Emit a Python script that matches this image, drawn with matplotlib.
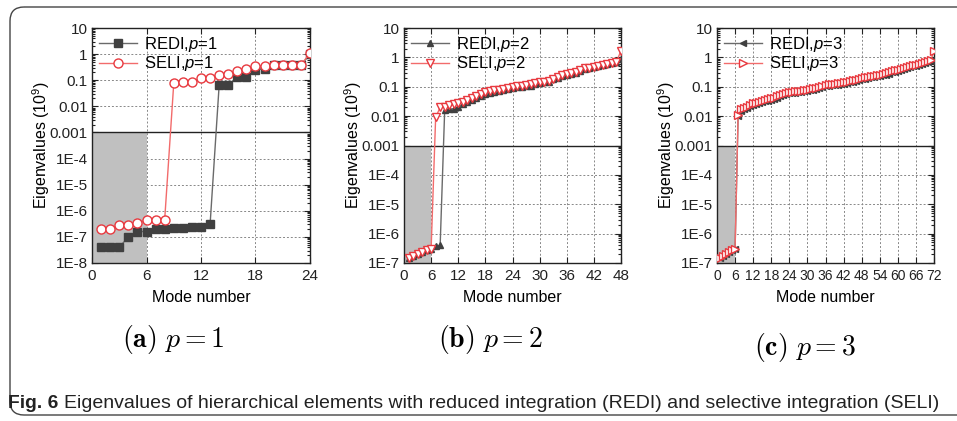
import matplotlib
matplotlib.use("Agg")
import matplotlib.pyplot as plt
from matplotlib.patches import FancyBboxPatch
from matplotlib.ticker import FixedLocator, LogLocator, NullFormatter

plt.rcParams['font.family'] = ['Liberation Sans', 'DejaVu Sans']
plt.rcParams['mathtext.fontset'] = 'custom'
plt.rcParams['mathtext.rm'] = 'Liberation Sans'
plt.rcParams['mathtext.it'] = 'Liberation Sans:italic'

# ---------------- data ----------------
modes_p1 = list(range(1, 25))
redi_p1 = [4e-8, 4e-8, 4e-8, 1e-7, 1.6e-7, 1.6e-7, 2e-7, 2e-7, 2.2e-7, 2.2e-7, 2.4e-7, 2.4e-7,
           3e-7, 0.065, 0.065, 0.13, 0.13, 0.25, 0.28, 0.37, 0.37, 0.37, 0.37, 1.0]
seli_p1 = [2e-7, 2e-7, 2.9e-7, 2.9e-7, 3.5e-7, 4.3e-7, 4.5e-7, 4.5e-7, 0.075, 0.082, 0.085, 0.12,
           0.125, 0.165, 0.17, 0.23, 0.27, 0.36, 0.36, 0.38, 0.38, 0.38, 0.38, 1.1]

modes_p2 = list(range(1, 49))
redi_p2 = [1.5e-7, 1.8e-7, 2.1e-7, 2.4e-7, 2.8e-7, 3.1e-7, 3.8e-7, 4.0e-7, 0.016, 0.017,
           0.018, 0.021, 0.025, 0.03, 0.036, 0.042, 0.049, 0.057, 0.063, 0.068,
           0.073, 0.078, 0.083, 0.09, 0.095, 0.1, 0.105, 0.11, 0.12, 0.13,
           0.14, 0.15, 0.18, 0.2, 0.23, 0.26, 0.28, 0.3, 0.34, 0.4,
           0.43, 0.46, 0.5, 0.54, 0.58, 0.62, 0.68, 0.85]
seli_p2 = [1.5e-7, 1.7e-7, 2.0e-7, 2.3e-7, 2.7e-7, 3.0e-7, 0.009, 0.02, 0.021, 0.023,
           0.025, 0.027, 0.031, 0.036, 0.042, 0.048, 0.055, 0.065, 0.07, 0.075,
           0.08, 0.085, 0.09, 0.1, 0.105, 0.11, 0.115, 0.12, 0.13, 0.14,
           0.15, 0.16, 0.19, 0.22, 0.25, 0.28, 0.3, 0.32, 0.36, 0.42,
           0.45, 0.48, 0.52, 0.56, 0.6, 0.64, 0.7, 1.7]

modes_p3 = list(range(1, 73))
seli_p3 = [1.5e-7, 1.7e-7, 2.0e-7, 2.3e-7, 2.7e-7, 3.0e-7,
           0.011, 0.017, 0.019, 0.021, 0.024, 0.027, 0.029, 0.031, 0.033, 0.035,
           0.037, 0.040, 0.043, 0.047, 0.052, 0.058, 0.062, 0.065, 0.067, 0.069,
           0.071, 0.073, 0.076, 0.080, 0.085, 0.088, 0.092, 0.097, 0.105, 0.115,
           0.12, 0.125, 0.128, 0.13, 0.135, 0.14, 0.15, 0.16, 0.165, 0.175,
           0.19, 0.20, 0.21, 0.22, 0.23, 0.24, 0.25, 0.26, 0.27, 0.29,
           0.31, 0.34, 0.36, 0.38, 0.40, 0.42, 0.46, 0.50, 0.53, 0.56,
           0.60, 0.65, 0.70, 0.75, 0.80, 1.70]
redi_p3 = [1.5e-7, 1.7e-7, 2.0e-7, 2.3e-7, 2.7e-7, 3.0e-7,
           0.010, 0.015, 0.017, 0.019, 0.022, 0.024, 0.026, 0.028, 0.030, 0.032,
           0.034, 0.036, 0.039, 0.043, 0.047, 0.052, 0.056, 0.059, 0.061, 0.063,
           0.065, 0.067, 0.069, 0.072, 0.077, 0.080, 0.083, 0.088, 0.095, 0.104,
           0.108, 0.113, 0.116, 0.118, 0.122, 0.127, 0.135, 0.145, 0.15, 0.158,
           0.17, 0.18, 0.19, 0.20, 0.21, 0.22, 0.23, 0.235, 0.245, 0.26,
           0.28, 0.31, 0.33, 0.35, 0.37, 0.39, 0.42, 0.46, 0.49, 0.52,
           0.56, 0.61, 0.66, 0.71, 0.76, 0.85]

ytick_vals = [1e-8, 1e-7, 1e-6, 1e-5, 1e-4, 1e-3, 1e-2, 1e-1, 1, 10]
ytick_labels = ['1E-8', '1E-7', '1E-6', '1E-5', '1E-4', '0.001', '0.01', '0.1', '1', '10']

panels = [
    dict(x=modes_p1, redi=redi_p1, seli=seli_p1, xmax=24, ymin=1e-8,
         xticks=list(range(0, 25, 6)), p='1', mr='s', ms_='o', caption='(a)'),
    dict(x=modes_p2, redi=redi_p2, seli=seli_p2, xmax=48, ymin=1e-7,
         xticks=list(range(0, 49, 6)), p='2', mr='^', ms_='v', caption='(b)'),
    dict(x=modes_p3, redi=redi_p3, seli=seli_p3, xmax=72, ymin=1e-7,
         xticks=list(range(0, 73, 6)), p='3', mr='<', ms_='>', caption='(c)'),
]

# ---------------- layout (pixels) ----------------
W, H = 957, 421
fig = plt.figure(figsize=(W / 100, H / 100), dpi=100)

bg = fig.add_axes([0, 0, 1, 1], zorder=-5)
bg.set_xlim(0, W)
bg.set_ylim(H, 0)
bg.axis('off')
bg.add_patch(FancyBboxPatch((10, 7), 1000, 408, boxstyle='round,pad=0,rounding_size=14',
                            fc='none', ec='#444444', lw=1.0))

boxes = [(92, 310), (404, 621), (717, 934)]
ylab_right = [52, 364, 677]
xtick_size = [11, 11, 10]
ytop, ybot = 28, 263
cap_x = [173, 490, 805]
cap_y = [339, 339, 347]

RED = '#e8393f'
REDL = '#f26b6b'
DARK = '#404040'
GRAYL = '#6a6a6a'

for i, (pnl, (x0, x1)) in enumerate(zip(panels, boxes)):
    ax = fig.add_axes([x0 / W, 1 - ybot / H, (x1 - x0) / W, (ybot - ytop) / H])
    ax.set_yscale('log')
    ax.set_xlim(0, pnl['xmax'])
    ax.set_ylim(pnl['ymin'], 10)
    ms = 5.5 if i == 0 else 5.0
    ax.plot(pnl['x'], pnl['redi'], color=GRAYL, lw=1.0, marker=pnl['mr'], ms=ms,
            mfc=DARK, mec=DARK, zorder=3, label='REDI,$p$=' + pnl['p'])
    ax.plot(pnl['x'], pnl['seli'], color=REDL, lw=1.0, marker=pnl['ms_'], ms=ms + 1.0,
            mfc='white', mec=RED, mew=1.0, zorder=4, label='SELI,$p$=' + pnl['p'])
    ax.fill_between([0, 6], pnl['ymin'], 1e-3, color='#c0c0c0', zorder=1.5, lw=0)
    ax.axhline(1e-3, color='#222222', lw=1.0, zorder=2)
    ax.set_axisbelow(True)
    ax.grid(True, which='major', color='#888888', ls=(0, (2, 2)), lw=0.7)
    ax.set_xticks(pnl['xticks'])
    vals = [v for v in ytick_vals if v >= pnl['ymin']]
    labs = [l for v, l in zip(ytick_vals, ytick_labels) if v >= pnl['ymin']]
    ax.yaxis.set_major_locator(FixedLocator(vals))
    ax.set_yticklabels(labs)
    ax.yaxis.set_minor_locator(LogLocator(base=10, subs=range(2, 10), numticks=20))
    ax.yaxis.set_minor_formatter(NullFormatter())
    ax.tick_params(which='both', direction='in', top=True, right=True,
                   width=0.8, colors='#222222')
    ax.tick_params(axis='y', labelsize=11)
    ax.tick_params(axis='x', labelsize=xtick_size[i])
    ax.tick_params(which='major', length=4)
    ax.tick_params(axis='x', which='major', pad=4)
    ax.tick_params(axis='y', which='major', pad=3)
    ax.tick_params(which='minor', length=2)
    for s in ax.spines.values():
        s.set_linewidth(1.0)
        s.set_color('#222222')
    ax.set_xlabel('Mode number', fontsize=11.5, labelpad=5)
    ax.set_ylabel('Eigenvalues (10$^9$)', fontsize=11.5)
    ax.yaxis.set_label_coords((ylab_right[i] - x0) / (x1 - x0), 0.5)
    ax.legend(loc='upper left', frameon=False, fontsize=12, handlelength=2.3,
              labelspacing=0.05, borderaxespad=0.2, handletextpad=0.4,
              borderpad=0.2)

    bg.text(cap_x[i], cap_y[i], r'$\mathbf{' + pnl['caption'] + r'}\ p = ' + pnl['p'] + '$',
            fontsize=20, ha='center', va='center', math_fontfamily='cm')

t1 = bg.text(8, 403, 'Fig. 6', fontsize=12, fontweight='bold', ha='left', va='center',
             color='#222222')
t2 = bg.text(64, 403, 'Eigenvalues of hierarchical elements with reduced integration (REDI) '
             'and selective integration (SELI)', fontsize=12, ha='left', va='center',
             color='#222222')
fig.canvas.draw()
r = fig.canvas.get_renderer()
w2 = t2.get_window_extent(r).width
t2.set_fontsize(12 * (937 - 64) / w2)
w1 = t1.get_window_extent(r).width
t1.set_fontsize(12 * 50 / w1)

fig.savefig('out.png', dpi=100)
